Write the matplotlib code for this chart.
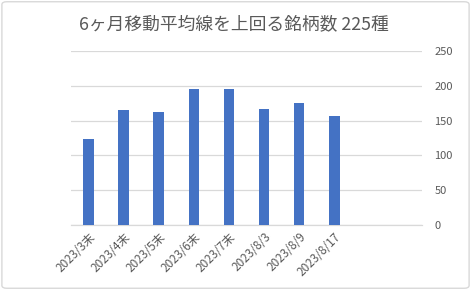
import matplotlib
matplotlib.use("Agg")
import matplotlib.pyplot as plt
from matplotlib.patches import FancyBboxPatch

plt.rcParams['font.family'] = ['Noto Sans CJK JP', 'DejaVu Sans']

# Data
labels = ['2023/3末', '2023/4末', '2023/5末', '2023/6末', '2023/7末',
          '2023/8/3', '2023/8/9', '2023/8/17', '', '']
counts = [124, 166, 162, 196, 195, 167, 175, 156]
yticks = [0, 50, 100, 150, 200, 250]
title = '6ヶ月移動平均線を上回る銘柄数 225種'

text_col = '#595959'
grid_col = '#d9d9d9'
bar_col = '#4472c4'

fig = plt.figure(figsize=(4.71, 2.90), dpi=100)
ax = fig.add_axes([0.1507, 0.224, 0.7453, 0.600])

x = list(range(len(labels)))
ax.bar(x[:len(counts)], counts, width=0.3, color=bar_col, zorder=3)

ax.set_xlim(-0.5, len(labels) - 0.5)
ax.set_ylim(0, 250)
ax.set_yticks(yticks)
ax.yaxis.tick_right()
ax.tick_params(axis='y', length=0, pad=9, labelsize=8, labelcolor=text_col)
ax.set_xticks(x)
ax.set_xticklabels(labels, rotation=45, ha='right', rotation_mode='anchor')
ax.tick_params(axis='x', length=0, pad=4, labelsize=8.5, labelcolor=text_col)
ax.grid(axis='y', color=grid_col, linewidth=0.9, zorder=0)
for s in ['top', 'left', 'right']:
    ax.spines[s].set_visible(False)
ax.spines['bottom'].set_color(grid_col)
ax.spines['bottom'].set_linewidth(0.9)

fig.text(0.497, 0.918, title, ha='center', va='center', fontsize=12.8, color=text_col)

# chart frame
frame = FancyBboxPatch((0.004, 0.006), 0.992, 0.988, boxstyle='round,pad=0,rounding_size=0.01',
                       transform=fig.transFigure, fill=False, edgecolor='#d9d9d9', linewidth=1.0)
fig.patches.append(frame)

fig.savefig('out.png', dpi=100)
